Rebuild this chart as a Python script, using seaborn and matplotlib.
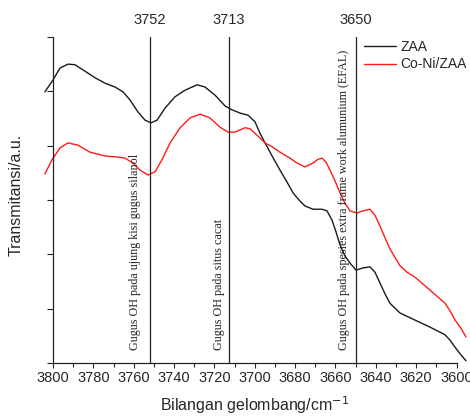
import matplotlib
matplotlib.use("Agg")
import matplotlib.pyplot as plt
import seaborn as sns
import pandas as pd
from matplotlib.ticker import MultipleLocator
from matplotlib.lines import Line2D

# ---- data ----
zaa_x = [3804.0, 3800.0, 3796.5, 3792.6, 3789.1, 3784.1, 3779.2, 3774.2, 3769.3, 3765.3,
         3761.8, 3757.9, 3754.4, 3751.4, 3748.4, 3744.5, 3739.5, 3734.6, 3728.6, 3724.7,
         3719.7, 3714.7, 3711.3, 3707.3, 3703.3, 3699.9, 3697.4, 3694.9, 3691.4, 3687.5,
         3684.0, 3681.0, 3677.6, 3675.1, 3671.1, 3666.7, 3664.2, 3661.7, 3659.7, 3657.7,
         3655.3, 3652.8, 3649.8, 3646.3, 3642.9, 3640.4, 3637.9, 3635.4, 3633.0, 3628.0,
         3620.6, 3613.1, 3605.7, 3603.2, 3600.7, 3597.8, 3595.3]
zaa_y = [4.99, 5.21, 5.43, 5.50, 5.49, 5.37, 5.25, 5.15, 5.08, 4.99,
         4.84, 4.62, 4.47, 4.42, 4.47, 4.69, 4.90, 5.02, 5.12, 5.08,
         4.93, 4.73, 4.66, 4.60, 4.56, 4.44, 4.23, 4.05, 3.81, 3.55,
         3.33, 3.13, 2.98, 2.89, 2.83, 2.83, 2.80, 2.63, 2.41, 2.17,
         1.97, 1.84, 1.71, 1.75, 1.77, 1.67, 1.47, 1.27, 1.10, 0.92,
         0.79, 0.66, 0.52, 0.42, 0.29, 0.15, 0.04]
coni_x = [3804.0, 3800.5, 3796.5, 3792.6, 3787.6, 3781.7, 3774.2, 3767.8, 3764.3, 3760.3,
          3756.9, 3752.9, 3749.4, 3746.0, 3742.0, 3737.0, 3732.1, 3727.1, 3722.2, 3717.2,
          3713.3, 3709.8, 3704.8, 3702.3, 3697.4, 3694.9, 3691.4, 3687.5, 3682.5, 3679.0,
          3675.1, 3671.1, 3668.6, 3666.7, 3664.7, 3662.7, 3660.2, 3657.7, 3655.3, 3652.8,
          3649.3, 3646.3, 3642.9, 3640.4, 3637.9, 3635.4, 3633.0, 3628.0, 3624.5, 3620.6,
          3613.1, 3605.7, 3603.2, 3600.7, 3597.8, 3595.3]
coni_y = [3.48, 3.74, 3.96, 4.05, 4.01, 3.88, 3.81, 3.79, 3.77, 3.68,
          3.55, 3.46, 3.52, 3.74, 4.05, 4.33, 4.51, 4.58, 4.51, 4.34,
          4.25, 4.25, 4.33, 4.31, 4.14, 4.05, 3.98, 3.88, 3.77, 3.68,
          3.61, 3.68, 3.75, 3.77, 3.70, 3.55, 3.35, 3.13, 2.94, 2.80,
          2.76, 2.80, 2.83, 2.72, 2.52, 2.30, 2.10, 1.79, 1.67, 1.58,
          1.34, 1.10, 0.96, 0.79, 0.64, 0.48]
series_names = ["ZAA", "Co-Ni/ZAA"]
series_colors = ["#1a1a1a", "#ff1a1a"]
peak_positions = [3752, 3713, 3650]
peak_labels = ["3752", "3713", "3650"]
peak_notes = ["Gugus OH pada ujung kisi gugus silanol",
              "Gugus OH pada situs cacat",
              "Gugus OH pada spesies extra frame work alumunium (EFAL)"]
note_x = [3759.4, 3717.7, 3655.8]
x_label = "Bilangan gelombang/cm$^{-1}$"
y_label = "Transmitansi/a.u."

df = pd.concat([
    pd.DataFrame({"x": zaa_x, "y": zaa_y, "s": series_names[0]}),
    pd.DataFrame({"x": coni_x, "y": coni_y, "s": series_names[1]}),
])

sns.set_style("ticks")
plt.rcParams["font.family"] = ["Liberation Sans", "DejaVu Sans"]

fig = plt.figure(figsize=(4.7, 4.16), dpi=100)
ax = fig.add_axes([53/470, 1-363/416, (456.5-53)/470, (363-37)/416])

sns.lineplot(data=df, x="x", y="y", hue="s", palette=dict(zip(series_names, series_colors)),
             ax=ax, linewidth=1.0, legend=False, sort=True, estimator=None)
for ln in ax.lines:
    ln.set_clip_on(False)
    ln.set_solid_joinstyle("round")

ax.set_xlim(3800, 3600)
ax.set_ylim(0, 6)
ax.xaxis.set_major_locator(MultipleLocator(20))
ax.xaxis.set_minor_locator(MultipleLocator(10))
ax.yaxis.set_major_locator(MultipleLocator(1))
ax.set_yticklabels([])
ax.tick_params(axis="x", which="major", direction="out", length=3.5, width=0.8, labelsize=10.5, pad=2.5)
ax.tick_params(axis="x", which="minor", direction="out", length=3, width=0.8)
ax.tick_params(axis="y", which="major", direction="out", length=4, width=0.8)
for s in ["top", "right"]:
    ax.spines[s].set_visible(False)
for s in ["left", "bottom"]:
    ax.spines[s].set_linewidth(0.9)
    ax.spines[s].set_color("#222222")

for xp, lab, note, nx in zip(peak_positions, peak_labels, peak_notes, note_x):
    ax.axvline(xp, color="#222222", linewidth=0.9)
    ax.text(xp, 1.0 + 17/326, lab, transform=ax.get_xaxis_transform(), ha="center", va="center",
            fontsize=10.5)
    ax.text(nx, 0.04, note, transform=ax.get_xaxis_transform(), rotation=90, ha="center",
            va="bottom", fontsize=8.7, family=["Liberation Serif", "DejaVu Serif"], color="#222222")

ax.set_xlabel(x_label, fontsize=11.5)
ax.xaxis.set_label_coords(0.5, (363-394)/326)
ax.set_ylabel(y_label, fontsize=11.5)
ax.yaxis.set_label_coords((24-53)/403.5, 0.515)

handles = [Line2D([], [], color=c, linewidth=1.0) for c in series_colors]
fig.legend(handles, series_names, loc="upper left", bbox_to_anchor=(364/470, 1-40/416),
           frameon=False, fontsize=10, borderpad=0, handlelength=2.3, handletextpad=0.3,
           labelspacing=0.25, borderaxespad=0)

fig.savefig("out.png", dpi=100)
